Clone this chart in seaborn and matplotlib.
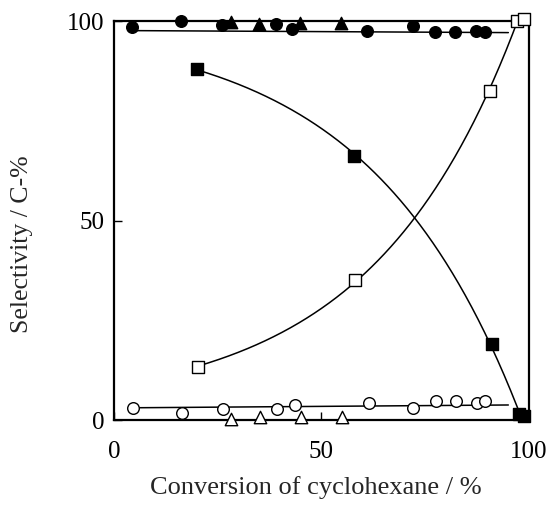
import numpy as np
import pandas as pd
import matplotlib
matplotlib.use("Agg")
import matplotlib.pyplot as plt
import seaborn as sns

# Selectivity vs. conversion of cyclohexane
cyc_ol_x = [4.3, 16.1, 26.0, 39.0, 43.0, 61.0, 72.0, 77.3, 82.2, 87.2, 89.4]
cyc_ol_y = [98.4, 100.0, 99.0, 99.2, 98.0, 97.4, 98.7, 97.2, 97.2, 97.6, 97.2]

tri_f_x = [28.1, 35.0, 44.8, 54.6]
tri_f_y = [99.7, 99.2, 99.5, 99.5]

sq_f_x = [20.0, 57.8, 91.0, 97.6, 98.8]
sq_f_y = [88.0, 66.3, 19.1, 1.5, 1.0]

sq_o_x = [20.2, 58.0, 90.6, 97.0, 98.8]
sq_o_y = [13.3, 35.0, 82.4, 100.0, 100.5]

circ_o_x = [4.5, 16.5, 26.3, 39.2, 43.6, 61.4, 72.1, 77.6, 82.4, 87.4, 89.4]
circ_o_y = [3.1, 1.7, 2.7, 2.7, 3.9, 4.2, 3.1, 4.8, 4.8, 4.2, 4.8]

tri_o_x = [28.2, 35.3, 45.0, 55.0]
tri_o_y = [0.2, 0.7, 0.7, 0.7]

# Straight trend lines (start/end conversion and selectivity)
trend_top_x = [4.3, 95.0]
trend_top_y = [97.6, 97.1]
trend_low_x = [4.5, 95.0]
trend_low_y = [3.1, 3.8]

x_ticks = [0, 50, 100]
y_ticks = [0, 50, 100]

sns.set_theme(style="ticks")
plt.rcParams["font.family"] = ["Liberation Serif", "DejaVu Serif"]

fig = plt.figure(figsize=(5.5, 5.13), dpi=100)
ax = fig.add_axes([0.207, 0.181, 0.755, 0.778])


def exp_fit(xs, ys, x0, x1):
    """Least-squares fit of y = a + c*exp(k*x), scanning k."""
    xs = np.asarray(xs, float)
    ys = np.asarray(ys, float)
    best = None
    for k in np.linspace(0.002, 0.25, 2000):
        M = np.column_stack([np.ones_like(xs), np.exp(k * xs)])
        coef, *_ = np.linalg.lstsq(M, ys, rcond=None)
        r = np.sum((M @ coef - ys) ** 2)
        if best is None or r < best[0]:
            best = (r, k, coef)
    _, k, (a, c) = best
    xx = np.linspace(x0, x1, 300)
    return xx, a + c * np.exp(k * xx)


curves = [
    (trend_top_x, trend_top_y),
    (trend_low_x, trend_low_y),
    exp_fit(sq_f_x[:4], sq_f_y[:4], 20.0, 97.6),
    exp_fit(sq_o_x[:4], sq_o_y[:4], 20.2, 97.0),
]
for xx, yy in curves:
    sns.lineplot(x=xx, y=yy, ax=ax, color="black", linewidth=1.1, sort=False)

ms = 70
sns.scatterplot(x=cyc_ol_x, y=cyc_ol_y, ax=ax, marker="o", s=ms,
                color="black", edgecolor="black", linewidth=1, zorder=5)
sns.scatterplot(x=tri_f_x, y=tri_f_y, ax=ax, marker="^", s=ms + 10,
                color="black", edgecolor="black", linewidth=1, zorder=5)
sns.scatterplot(x=sq_f_x, y=sq_f_y, ax=ax, marker="s", s=ms - 5,
                color="black", edgecolor="black", linewidth=1, zorder=5)
sns.scatterplot(x=sq_o_x, y=sq_o_y, ax=ax, marker="s", s=ms - 5,
                color="white", edgecolor="black", linewidth=1, zorder=5)
sns.scatterplot(x=circ_o_x, y=circ_o_y, ax=ax, marker="o", s=ms,
                color="white", edgecolor="black", linewidth=1, zorder=5)
sns.scatterplot(x=tri_o_x, y=tri_o_y, ax=ax, marker="^", s=ms + 10,
                color="white", edgecolor="black", linewidth=1, zorder=5)

for c in ax.collections:
    c.set_clip_on(False)

ax.set_xlim(0, 100)
ax.set_ylim(0, 100)
ax.set_xticks(x_ticks)
ax.set_yticks(y_ticks)
ax.tick_params(direction="in", length=6, width=1, labelsize=18,
               top=False, right=False, colors="black")
ax.tick_params(axis="x", pad=15)
ax.tick_params(axis="y", pad=7)
for s in ax.spines.values():
    s.set_linewidth(1.6)
    s.set_color("black")

ax.set_xlabel("Conversion of cyclohexane / %", fontsize=19)
ax.set_ylabel("Selectivity / C-%", fontsize=18.5)
ax.xaxis.set_label_coords(0.486, -0.14)
ax.yaxis.set_label_coords(-0.195, 0.442)

fig.savefig("out.png", dpi=100, facecolor="white")
